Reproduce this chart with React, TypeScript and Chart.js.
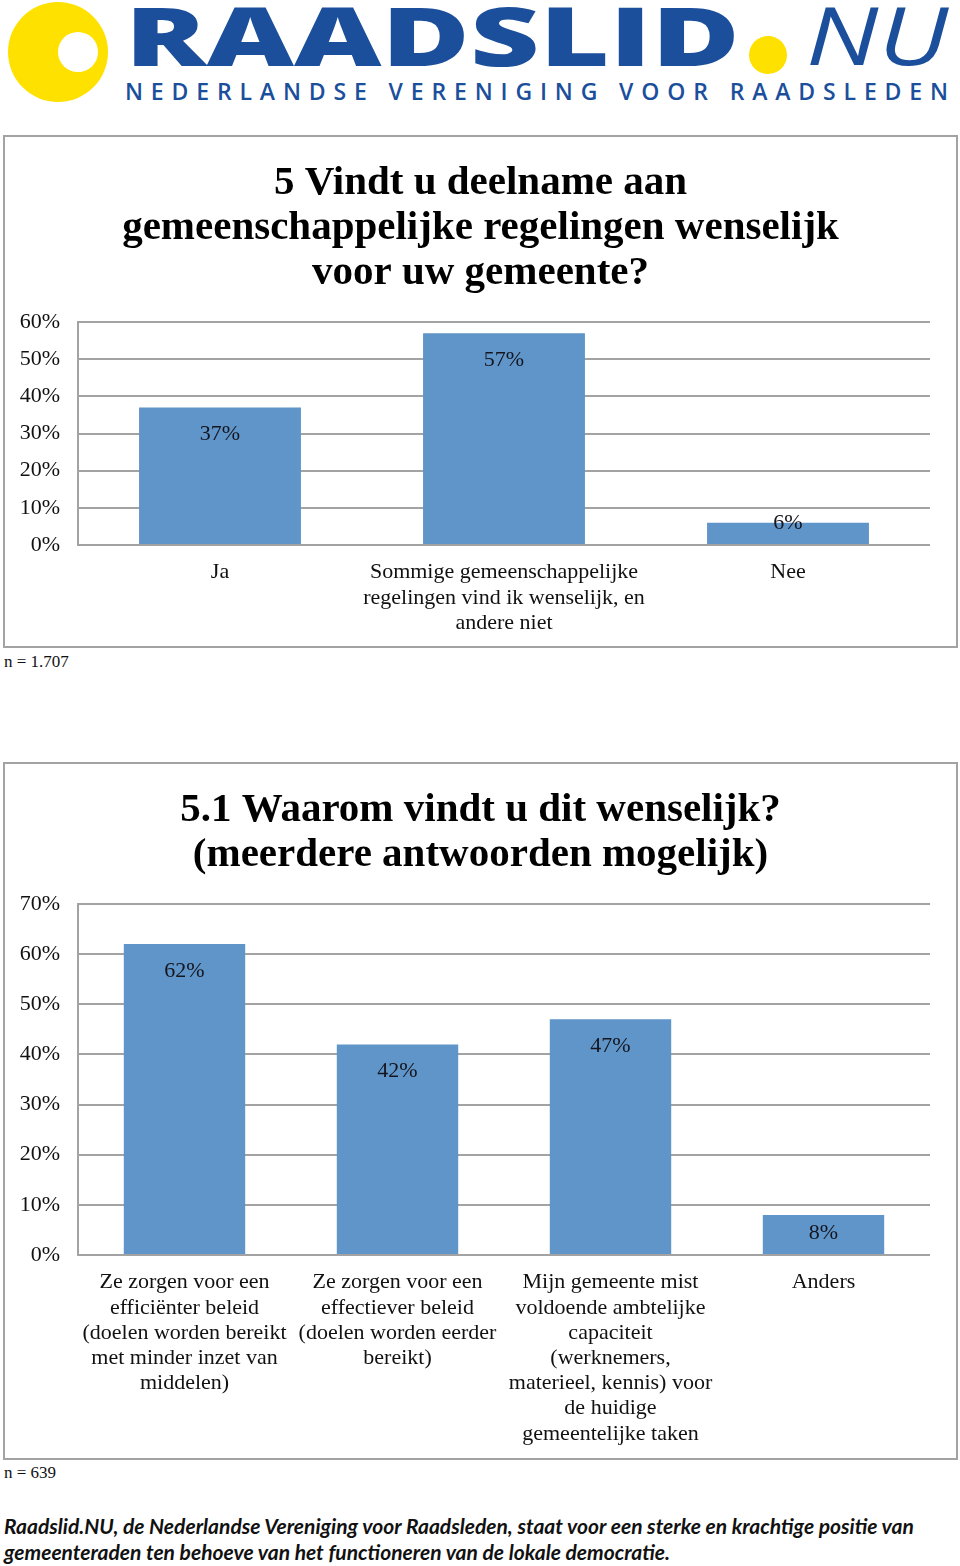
import React, { useEffect, useRef } from "react";
import { Chart, registerables } from "chart.js";

Chart.register(...registerables);

// ---------- Data ----------
const chart1Title = ["5 Vindt u deelname aan", "gemeenschappelijke regelingen wenselijk", "voor uw gemeente?"];
const chart1Categories = [
  ["Ja"],
  ["Sommige gemeenschappelijke", "regelingen vind ik wenselijk, en", "andere niet"],
  ["Nee"],
];
const chart1Values = [37, 57, 6];
const chart1Max = 60;
const chart1N = "n = 1.707";

const chart2Title = ["5.1 Waarom vindt u dit wenselijk?", "(meerdere antwoorden mogelijk)"];
const chart2Categories = [
  ["Ze zorgen voor een", "efficiënter beleid", "(doelen worden bereikt", "met minder inzet van", "middelen)"],
  ["Ze zorgen voor een", "effectiever beleid", "(doelen worden eerder", "bereikt)"],
  ["Mijn gemeente mist", "voldoende ambtelijke", "capaciteit", "(werknemers,", "materieel, kennis) voor", "de huidige", "gemeentelijke taken"],
  ["Anders"],
];
const chart2Values = [62, 42, 47, 8];
const chart2Max = 70;
const chart2N = "n = 639";

const tickStep = 10;
const footerLines = [
  "Raadslid.NU, de Nederlandse Vereniging voor Raadsleden, staat voor een sterke en krachtige positie van",
  "gemeenteraden ten behoeve van het functioneren van de lokale democratie.",
];

// ---------- Styles ----------
const SERIF = "'Liberation Serif', 'Times New Roman', serif";
const BAR = "#5f95c8";
const GRID = "#a3a3a3";

const dataLabelPlugin = {
  id: "dataLabels",
  afterDatasetsDraw(chart: any) {
    const ctx = chart.ctx;
    const meta = chart.getDatasetMeta(0);
    const values = chart.data.datasets[0].data;
    ctx.save();
    ctx.font = `22px ${SERIF}`;
    ctx.fillStyle = "#15151f";
    ctx.textAlign = "center";
    ctx.textBaseline = "middle";
    meta.data.forEach((el: any, i: number) => {
      const y = Math.min(el.y + 27, el.base - 21);
      ctx.fillText(values[i] + "%", el.x, y);
    });
    ctx.restore();
  },
};

function makeConfig(
  title: string[],
  labels: string[][],
  values: number[],
  max: number,
  areaTop: number,
  xHeight: number
): any {
  const titleLines = title.length * 45;
  const padTop = 23.5;
  return {
    type: "bar",
    data: {
      labels,
      datasets: [
        {
          data: values,
          backgroundColor: BAR,
          borderWidth: 0,
          barPercentage: 0.57,
          categoryPercentage: 1,
        },
      ],
    },
    plugins: [dataLabelPlugin],
    options: {
      responsive: false,
      animation: false,
      devicePixelRatio: 1,
      layout: { padding: 0 },
      plugins: {
        legend: { display: false },
        tooltip: { enabled: false },
        title: {
          display: true,
          text: title,
          color: "#000",
          font: { family: SERIF, size: 41, weight: "bold", lineHeight: "45px" },
          padding: { top: padTop, bottom: areaTop - padTop - titleLines },
        },
      },
      scales: {
        x: {
          grid: { display: false, drawTicks: false },
          border: { display: false },
          ticks: {
            color: "#111",
            font: { family: SERIF, size: 22, lineHeight: "25.2px" },
            padding: 15,
            maxRotation: 0,
            minRotation: 0,
            autoSkip: false,
          },
          afterFit: (s: any) => {
            s.height = xHeight;
          },
        },
        y: {
          min: 0,
          max,
          ticks: {
            stepSize: tickStep,
            color: "#111",
            font: { family: SERIF, size: 22 },
            padding: 18,
            callback: (v: any) => v + "%",
          },
          grid: { color: GRID, lineWidth: 2, drawTicks: false },
          border: { display: true, color: GRID, width: 2 },
          afterFit: (s: any) => {
            s.width = 73;
          },
        },
        yRight: {
          position: "right",
          min: 0,
          max,
          ticks: { display: false },
          grid: { display: false, drawTicks: false },
          border: { display: false },
          afterFit: (s: any) => {
            s.width = 26;
          },
        },
      },
    },
  };
}

function BarChart(props: {
  left: number;
  top: number;
  width: number;
  height: number;
  config: any;
}) {
  const ref = useRef<HTMLCanvasElement | null>(null);
  useEffect(() => {
    if (!ref.current) return;
    const chart = new Chart(ref.current, props.config);
    return () => chart.destroy();
  }, []);
  return (
    <canvas
      ref={ref}
      width={props.width}
      height={props.height}
      style={{
        position: "absolute",
        left: props.left,
        top: props.top,
        width: props.width,
        height: props.height,
      }}
    />
  );
}

function Logo() {
  const blue = "#1b4f9c";
  const yellow = "#ffe100";
  return (
    <svg
      width={960}
      height={110}
      style={{ position: "absolute", left: 0, top: 0 }}
      viewBox="0 0 960 110"
    >
      <circle cx={58} cy={52} r={50} fill={yellow} />
      <circle cx={78} cy={52} r={20} fill="#fff" />
      <text
        x={125}
        y={66}
        fill={blue}
        fontFamily="'Open Sans', 'DejaVu Sans', sans-serif"
        fontWeight={800}
        fontSize={82}
        textLength={615}
        lengthAdjust="spacingAndGlyphs"
      >
        RAADSLID
      </text>
      <circle cx={768} cy={55} r={19} fill={yellow} />
      <text
        x={806}
        y={65}
        fill={blue}
        fontFamily="'Open Sans', 'DejaVu Sans', sans-serif"
        fontStyle="italic"
        fontWeight={400}
        fontSize={80}
        textLength={142}
        lengthAdjust="spacingAndGlyphs"
      >
        NU
      </text>
      <text
        x={125}
        y={100}
        fill={blue}
        fontFamily="'Open Sans', 'DejaVu Sans', sans-serif"
        fontWeight={600}
        fontSize={23}
        textLength={823}
        lengthAdjust="spacing"
      >
        NEDERLANDSE VERENIGING VOOR RAADSLEDEN
      </text>
    </svg>
  );
}

export default function App() {
  const config1 = makeConfig(chart1Title, chart1Categories, chart1Values, chart1Max, 185, 101);
  const config2 = makeConfig(chart2Title, chart2Categories, chart2Values, chart2Max, 140, 203);
  const boxStyle = (top: number, height: number): React.CSSProperties => ({
    position: "absolute",
    left: 3,
    top,
    width: 951,
    height: height - 4,
    border: `2px solid ${GRID}`,
  });
  const noteStyle = (top: number): React.CSSProperties => ({
    position: "absolute",
    left: 4,
    top,
    fontFamily: SERIF,
    fontSize: 17,
    lineHeight: "20px",
    color: "#111",
    whiteSpace: "nowrap",
  });
  return (
    <div
      style={{
        position: "absolute",
        left: 0,
        top: 0,
        width: 960,
        height: 1566,
        background: "#fff",
        overflow: "hidden",
      }}
    >
      <Logo />
      <div style={boxStyle(135, 513)} />
      <BarChart left={5} top={137} width={951} height={509} config={config1} />
      <div style={noteStyle(652)}>{chart1N}</div>

      <div style={boxStyle(762, 698)} />
      <BarChart left={5} top={764} width={951} height={694} config={config2} />
      <div style={noteStyle(1463)}>{chart2N}</div>

      <div
        style={{
          position: "absolute",
          left: 4,
          top: 1513,
          fontFamily: "Lato, 'Open Sans', sans-serif",
          fontWeight: 700,
          fontStyle: "italic",
          fontSize: 21,
          lineHeight: "26px",
          color: "#111",
          whiteSpace: "nowrap",
        }}
      >
        {footerLines[0]}
        <br />
        {footerLines[1]}
      </div>
    </div>
  );
}
